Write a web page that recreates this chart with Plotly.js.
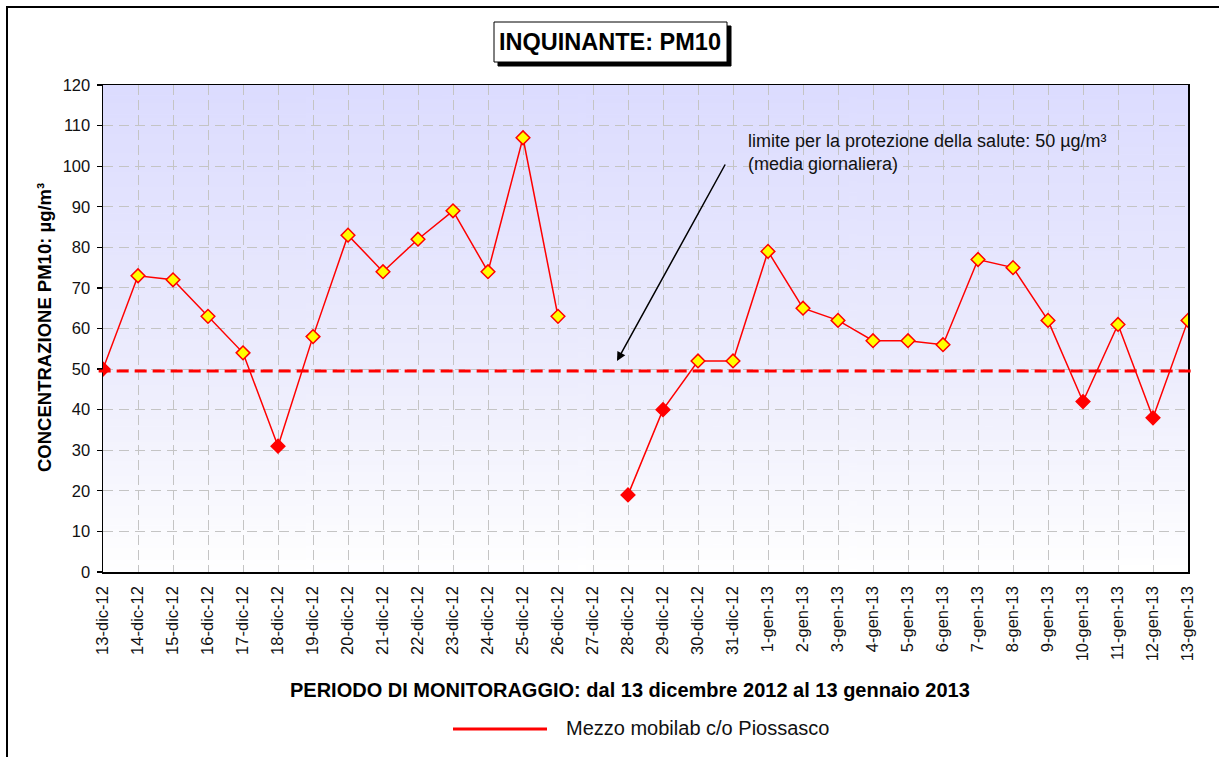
<!DOCTYPE html>
<html>
<head>
<meta charset="utf-8">
<script src="https://cdn.plot.ly/plotly-3.0.1.min.js"></script>
<style>
  html, body { margin: 0; padding: 0; background: #fff; }
  #wrap { position: relative; width: 1219px; height: 757px; overflow: hidden; }
  #chart { position: absolute; left: 0; top: 0; width: 1219px; height: 757px; }
  #frame { position: absolute; left: 6px; top: 6px; width: 1400px; height: 900px;
           border-left: 2px solid #000; border-top: 2px solid #000; pointer-events: none; }
</style>
</head>
<body>
<div id="wrap">
  <div id="chart"></div>
  <div id="frame"></div>
</div>
<script>
// ---- data ----
const categories = ["13-dic-12","14-dic-12","15-dic-12","16-dic-12","17-dic-12","18-dic-12","19-dic-12",
  "20-dic-12","21-dic-12","22-dic-12","23-dic-12","24-dic-12","25-dic-12","26-dic-12","27-dic-12",
  "28-dic-12","29-dic-12","30-dic-12","31-dic-12","1-gen-13","2-gen-13","3-gen-13","4-gen-13",
  "5-gen-13","6-gen-13","7-gen-13","8-gen-13","9-gen-13","10-gen-13","11-gen-13","12-gen-13","13-gen-13"];
const pm10 = [50,73,72,63,54,31,58,83,74,82,89,74,107,63,null,19,40,52,52,79,65,62,57,57,56,77,75,62,42,61,38,62];
const limitValue = 49.5;
const limitThreshold = 50;
const seriesName = "Mezzo mobilab c/o Piossasco";
const chartTitle = "INQUINANTE: PM10";
const xTitle = "PERIODO DI MONITORAGGIO: dal 13 dicembre 2012 al 13 gennaio 2013";
const yTitle = "CONCENTRAZIONE PM10: µg/m³";
const noteText = "limite per la protezione della salute: 50 µg/m³<br>(media giornaliera)";

// gradient background image
const cv = document.createElement('canvas');
cv.width = 8; cv.height = 256;
const ctx = cv.getContext('2d');
const g = ctx.createLinearGradient(0, 0, 0, 256);
g.addColorStop(0, '#dcdcff');
g.addColorStop(0.6, '#ededfd');
g.addColorStop(1, '#ffffff');
ctx.fillStyle = g; ctx.fillRect(0, 0, 8, 256);
const bgImg = cv.toDataURL('image/png');

const markerColors = pm10.map(v => (v !== null && v > limitThreshold) ? '#ffff00' : '#ff0000');

const FONT = 'Liberation Sans, Arial, sans-serif';

const trace = {
  type: 'scatter', mode: 'lines+markers',
  x: categories, y: pm10, name: seriesName,
  connectgaps: false,
  line: { color: '#ff0000', width: 1.5 },
  marker: { symbol: 'diamond', size: 10.5, color: markerColors, line: { color: '#ff0000', width: 1.5 } },
  showlegend: false
};

const layout = {
  width: 1219, height: 757,
  margin: { l: 103, r: 31, t: 85, b: 185 },
  paper_bgcolor: 'rgba(0,0,0,0)', plot_bgcolor: 'rgba(0,0,0,0)',
  font: { family: FONT, color: '#000' },
  xaxis: {
    type: 'category', range: [0, categories.length - 1],
    tickvals: categories, ticktext: categories,
    tickangle: -90, tickfont: { size: 16.5, family: FONT, color: '#111' },
    showgrid: true, gridcolor: '#c4c4c4', griddash: '10px,5px', gridwidth: 1,
    showline: true, linecolor: '#000', linewidth: 1.5, mirror: true,
    ticks: '', ticklabelstandoff: 6, zeroline: false, fixedrange: true
  },
  yaxis: {
    range: [0, 120], dtick: 10, tick0: 0,
    tickfont: { size: 16.5, family: FONT, color: '#111' },
    showgrid: true, gridcolor: '#c4c4c4', griddash: '10px,6px', gridwidth: 1,
    showline: true, linecolor: '#000', linewidth: 1.5, mirror: true,
    ticks: 'outside', ticklen: 5, tickcolor: '#000', tickwidth: 1.2,
    ticklabelstandoff: 3, zeroline: false, fixedrange: true
  },
  images: [{
    source: bgImg, xref: 'paper', yref: 'paper', x: 0, y: 1, sizex: 1, sizey: 1,
    sizing: 'stretch', xanchor: 'left', yanchor: 'top', layer: 'below'
  }],
  shapes: [
    { type: 'line', xref: 'paper', yref: 'y', x0: -0.004, x1: 1.004, y0: limitValue, y1: limitValue,
      line: { color: '#ff0000', width: 3, dash: '12px,6px' }, layer: 'above' },
    { type: 'line', xref: 'paper', yref: 'paper', x0: (453-103)/1085, x1: (547-103)/1085,
      y0: -(729-572)/487, y1: -(729-572)/487, line: { color: '#ff0000', width: 3 } },
    // title shadow
    { type: 'rect', xref: 'paper', yref: 'paper', xsizemode: 'pixel', ysizemode: 'pixel',
      xanchor: 0, yanchor: 1, x0: 498-103, x1: 731-103, y0: 85-26, y1: 85-66,
      fillcolor: '#000', line: { color: '#000', width: 1 } },
    // title box
    { type: 'rect', xref: 'paper', yref: 'paper', xsizemode: 'pixel', ysizemode: 'pixel',
      xanchor: 0, yanchor: 1, x0: 494-103, x1: 727-103, y0: 85-22, y1: 85-62,
      fillcolor: '#fff', line: { color: '#000', width: 1 } }
  ],
  annotations: [
    // title
    { text: '<b>' + chartTitle + '</b>', xref: 'paper', yref: 'paper', x: (610-103)/1085, y: 1 + (85-42)/487,
      xanchor: 'center', yanchor: 'middle', showarrow: false,
      font: { size: 23.5, family: FONT, color: '#000' } },
    // x title
    { text: '<b>' + xTitle + '</b>', xref: 'paper', yref: 'paper', x: (630-103)/1085, y: -(690-572)/487,
      xanchor: 'center', yanchor: 'middle', showarrow: false, font: { size: 20, family: FONT } },
    // y title
    { text: '<b>' + yTitle + '</b>', xref: 'paper', yref: 'paper', x: (44-103)/1085, y: (572-328)/487,
      xanchor: 'center', yanchor: 'middle', showarrow: false, textangle: -90, font: { size: 18.5, family: FONT } },
    // legend text
    { text: seriesName, xref: 'paper', yref: 'paper', x: (564-103)/1085, y: -(728-572)/487,
      xanchor: 'left', yanchor: 'middle', showarrow: false, font: { size: 20, family: FONT, color: '#111' } },
    // note text
    { text: noteText, xref: 'paper', yref: 'paper', x: (746-103)/1085, y: (572-129)/487,
      xanchor: 'left', yanchor: 'top', align: 'left', showarrow: false,
      font: { size: 18, family: FONT, color: '#111' } },
    // arrow
    { text: '', xref: 'paper', yref: 'paper', x: (617-103)/1085, y: (572-361)/487,
      showarrow: true, ax: 726-617, ay: 163-361, arrowhead: 2, arrowsize: 1.2, arrowwidth: 1.5, arrowcolor: '#000' }
  ]
};

Plotly.newPlot('chart', [trace], layout, { staticPlot: true, displayModeBar: false });
</script>
</body>
</html>
